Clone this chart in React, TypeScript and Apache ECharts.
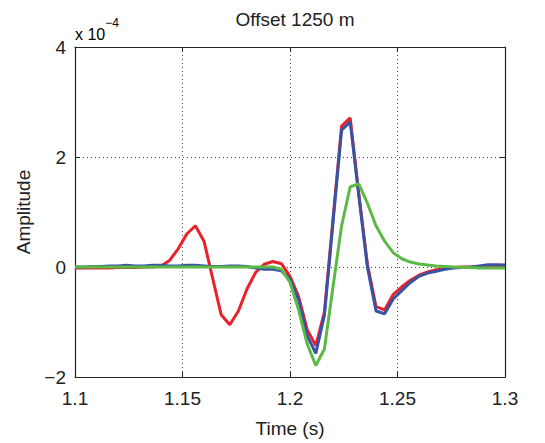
import React, { useEffect, useRef } from "react";
import * as echarts from "echarts";

const times = [
  1.100, 1.104, 1.108, 1.112, 1.116, 1.120, 1.124, 1.128, 1.132, 1.136,
  1.140, 1.144, 1.148, 1.152, 1.156, 1.160, 1.164, 1.168, 1.172, 1.176,
  1.180, 1.184, 1.188, 1.192, 1.196, 1.200, 1.204, 1.208, 1.212, 1.216,
  1.220, 1.224, 1.228, 1.232, 1.236, 1.240, 1.244, 1.248, 1.252, 1.256,
  1.260, 1.264, 1.268, 1.272, 1.276, 1.280, 1.284, 1.288, 1.292, 1.296,
  1.300,
];

// amplitudes in units of 1e-4
const redValues = [
  -0.02, -0.02, -0.02, -0.02, -0.02, -0.01, -0.01, -0.01, 0, 0,
  0.02, 0.12, 0.33, 0.6, 0.75, 0.47, -0.2, -0.87, -1.05, -0.8,
  -0.4, -0.1, 0.05, 0.1, 0.06, -0.17, -0.54, -1.14, -1.43, -0.82,
  0.87, 2.56, 2.71, 1.33, 0.05, -0.72, -0.78, -0.5, -0.36, -0.24,
  -0.15, -0.09, -0.05, -0.03, -0.01, 0, 0, 0.01, 0.01, 0.01,
  0.01,
];

const blueValues = [
  0, 0, 0.01, 0.01, 0.02, 0.02, 0.03, 0.02, 0.02, 0.03,
  0.03, 0.02, 0.02, 0.03, 0.03, 0.02, 0.01, 0.01, 0.02, 0.02,
  0.01, -0.02, -0.04, -0.04, -0.07, -0.22, -0.6, -1.25, -1.57, -0.88,
  0.81, 2.49, 2.64, 1.3, 0.0, -0.8, -0.85, -0.58, -0.43, -0.28,
  -0.17, -0.11, -0.08, -0.04, -0.02, -0.01, 0, 0.02, 0.04, 0.04,
  0.035,
];

const greenValues = [
  0, 0, 0, 0, 0, 0, 0, 0, 0, 0,
  0, 0, 0, 0, 0, 0, 0, 0, 0, 0,
  0, 0, 0, 0, -0.04, -0.28, -0.78, -1.4, -1.79, -1.49,
  -0.36, 0.75, 1.46, 1.51, 1.16, 0.75, 0.47, 0.26, 0.15, 0.09,
  0.055, 0.035, 0.02, 0.01, 0, -0.01, -0.01, -0.02, -0.02, -0.02,
  -0.02,
];

const xTicks = { min: 1.1, max: 1.3, interval: 0.05 };
const yTicks = { min: -2, max: 4, interval: 2 };

const FONT = "Liberation Sans, Arial, Helvetica, sans-serif";

function pairs(vals: number[]) {
  return times.map((t, i) => [t, vals[i]]);
}

export default function App() {
  const ref = useRef<HTMLDivElement>(null);
  useEffect(() => {
    if (!ref.current) return;
    const chart = echarts.init(ref.current, null, { renderer: "svg" });
    const gridLine = { show: true, lineStyle: { color: "#444", width: 1, type: [1, 3] as any } };
    const axisLine = { show: true, onZero: false, lineStyle: { color: "#222", width: 1.2 } };
    const tick = { show: true, inside: true, length: 5, lineStyle: { color: "#222" } };
    chart.setOption({
      animation: false,
      backgroundColor: "#fff",
      grid: { left: 75, right: 40, top: 47, bottom: 58, containLabel: false },
      title: {
        text: "Offset 1250 m",
        left: 290,
        textAlign: "center",
        top: 5,
        textStyle: { fontFamily: FONT, fontSize: 19, fontWeight: "normal", color: "#222" },
      },
      xAxis: [
        {
          type: "value",
          min: xTicks.min,
          max: xTicks.max,
          interval: xTicks.interval,
          axisLine,
          axisTick: tick,
          splitLine: gridLine,
          axisLabel: {
            fontFamily: FONT,
            fontSize: 19,
            color: "#222",
            margin: 12,
            formatter: (v: number) => String(+v.toFixed(2)),
          },
          name: "Time (s)",
          nameLocation: "middle",
          nameGap: 42,
          nameTextStyle: { fontFamily: FONT, fontSize: 19, color: "#222" },
        },
        {
          type: "value",
          position: "top",
          min: xTicks.min,
          max: xTicks.max,
          interval: xTicks.interval,
          axisLine,
          axisTick: tick,
          splitLine: { show: false },
          axisLabel: { show: false },
        },
      ],
      yAxis: [
        {
          type: "value",
          min: yTicks.min,
          max: yTicks.max,
          interval: yTicks.interval,
          axisLine,
          axisTick: tick,
          splitLine: gridLine,
          axisLabel: {
            fontFamily: FONT,
            fontSize: 19,
            color: "#222",
            margin: 9,
            formatter: (v: number) => String(v).replace("-", "\u2212"),
          },
          name: "Amplitude",
          nameLocation: "middle",
          nameGap: 42,
          nameRotate: 90,
          nameTextStyle: { fontFamily: FONT, fontSize: 19, color: "#222" },
        },
        {
          type: "value",
          position: "right",
          min: yTicks.min,
          max: yTicks.max,
          interval: yTicks.interval,
          axisLine,
          axisTick: tick,
          splitLine: { show: false },
          axisLabel: { show: false },
        },
      ],
      graphic: [
        {
          type: "text",
          left: 75,
          top: 17,
          style: {
            text: "{a|x 10}{b|\u22124}",
            rich: {
              a: { fontFamily: FONT, fontSize: 16, color: "#222", verticalAlign: "bottom", padding: [9, 0, 0, 0] },
              b: { fontFamily: FONT, fontSize: 12, color: "#222", verticalAlign: "top" },
            },
          },
        },
      ],
      series: [
        {
          type: "line",
          data: pairs(redValues),
          showSymbol: false,
          lineStyle: { color: "#e8212b", width: 3 },
          itemStyle: { color: "#e8212b" },
          z: 2,
        },
        {
          type: "line",
          data: pairs(blueValues),
          showSymbol: false,
          lineStyle: { color: "#3953a4", width: 3 },
          itemStyle: { color: "#3953a4" },
          z: 3,
        },
        {
          type: "line",
          data: pairs(greenValues),
          showSymbol: false,
          lineStyle: { color: "#5cb946", width: 3 },
          itemStyle: { color: "#5cb946" },
          z: 4,
        },
      ],
    });
    return () => chart.dispose();
  }, []);
  return (
    <div
      ref={ref}
      style={{ position: "absolute", left: 0, top: 0, width: 545, height: 443 }}
    />
  );
}
